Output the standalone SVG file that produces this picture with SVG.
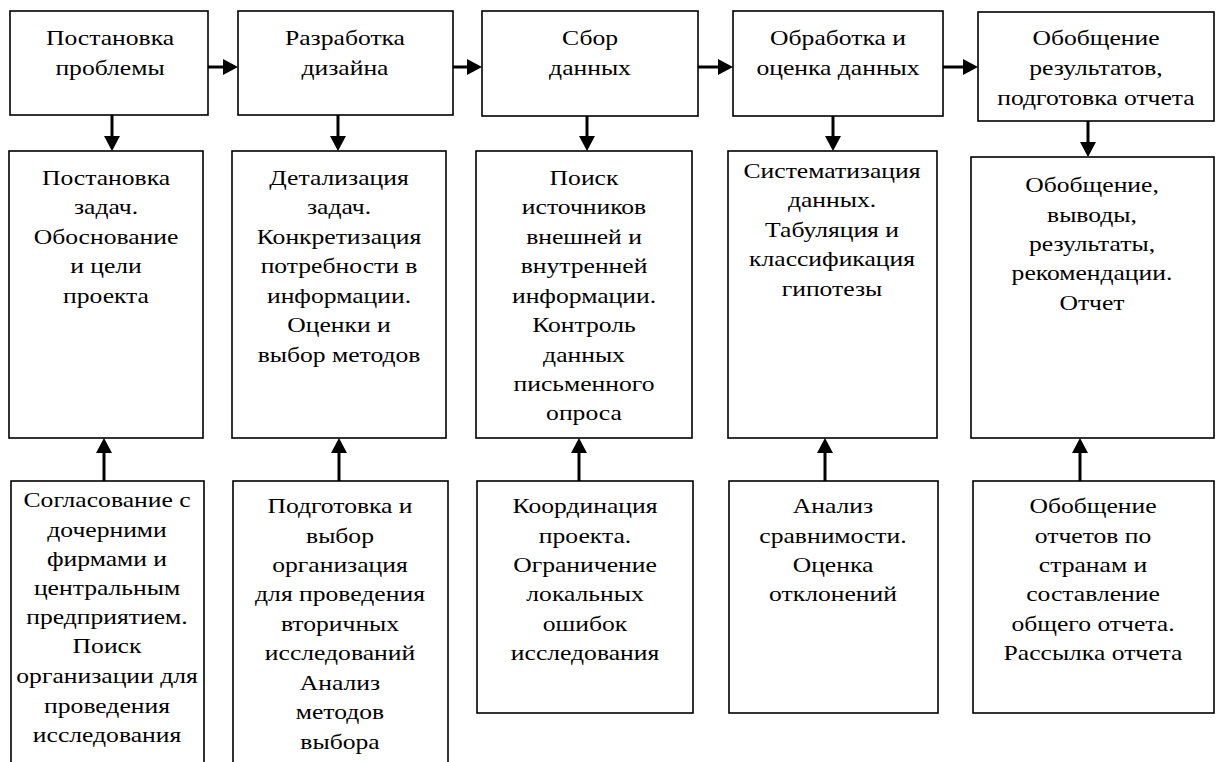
<svg xmlns="http://www.w3.org/2000/svg" width="1216" height="762" viewBox="0 0 1216 762">
<style>
.box{fill:#fff;stroke:#000;stroke-width:1.6}
text{font-family:'Liberation Serif','DejaVu Serif',serif;font-size:21px;fill:#000;text-anchor:middle}
.ar{stroke:#000;stroke-width:3;fill:none}
</style>
<defs>
<marker id="ah" viewBox="0 0 15 16" refX="0" refY="8" markerWidth="15" markerHeight="16" markerUnits="userSpaceOnUse" orient="auto">
<path d="M0,0 L15,8 L0,16 Z" fill="#000"/>
</marker>
</defs>
<rect width="1216" height="762" fill="#fff"/>

<g id="top1"><rect class="box" x="10" y="11" width="198" height="104"/>
<g transform="translate(110 0) scale(1.22 1)"><text x="0" y="45">Постановка</text><text x="0" y="75">проблемы</text></g></g>
<g id="top2"><rect class="box" x="238" y="11" width="215" height="104"/>
<g transform="translate(345 0) scale(1.22 1)"><text x="0" y="45">Разработка</text><text x="0" y="75">дизайна</text></g></g>
<g id="top3"><rect class="box" x="482" y="11" width="216" height="105"/>
<g transform="translate(590 0) scale(1.22 1)"><text x="0" y="45">Сбор</text><text x="0" y="75">данных</text></g></g>
<g id="top4"><rect class="box" x="733" y="11" width="210" height="105"/>
<g transform="translate(838 0) scale(1.22 1)"><text x="0" y="45">Обработка и</text><text x="0" y="75">оценка данных</text></g></g>
<g id="top5"><rect class="box" x="978" y="12" width="236" height="109"/>
<g transform="translate(1096 0) scale(1.22 1)"><text x="0" y="45">Обобщение</text><text x="0" y="75">результатов,</text><text x="0" y="105">подготовка отчета</text></g></g>

<g id="mid1"><rect class="box" x="9" y="151" width="194" height="287"/>
<g transform="translate(106 0) scale(1.22 1)"><text x="0" y="185">Постановка</text><text x="0" y="214">задач.</text><text x="0" y="244">Обоснование</text><text x="0" y="273">и цели</text><text x="0" y="303">проекта</text></g></g>
<g id="mid2"><rect class="box" x="232" y="151" width="214" height="287"/>
<g transform="translate(339 0) scale(1.22 1)"><text x="0" y="185">Детализация</text><text x="0" y="214">задач.</text><text x="0" y="244">Конкретизация</text><text x="0" y="273">потребности в</text><text x="0" y="303">информации.</text><text x="0" y="332">Оценки и</text><text x="0" y="362">выбор методов</text></g></g>
<g id="mid3"><rect class="box" x="476" y="151" width="216" height="287"/>
<g transform="translate(584 0) scale(1.22 1)"><text x="0" y="185">Поиск</text><text x="0" y="214">источников</text><text x="0" y="244">внешней и</text><text x="0" y="273">внутренней</text><text x="0" y="303">информации.</text><text x="0" y="332">Контроль</text><text x="0" y="362">данных</text><text x="0" y="391">письменного</text><text x="0" y="420">опроса</text></g></g>
<g id="mid4"><rect class="box" x="728" y="151" width="209" height="287"/>
<g transform="translate(832 0) scale(1.22 1)"><text x="0" y="178">Систематизация</text><text x="0" y="207">данных.</text><text x="0" y="237">Табуляция и</text><text x="0" y="266">классификация</text><text x="0" y="296">гипотезы</text></g></g>
<g id="mid5"><rect class="box" x="971" y="157" width="243" height="281"/>
<g transform="translate(1092 0) scale(1.22 1)"><text x="0" y="192">Обобщение,</text><text x="0" y="222">выводы,</text><text x="0" y="251">результаты,</text><text x="0" y="280">рекомендации.</text><text x="0" y="310">Отчет</text></g></g>

<g id="bot1"><rect class="box" x="11" y="481" width="193" height="290"/>
<g transform="translate(107 0) scale(1.22 1)"><text x="0" y="507">Согласование с</text><text x="0" y="537">дочерними</text><text x="0" y="566">фирмами и</text><text x="0" y="595">центральным</text><text x="0" y="624">предприятием.</text><text x="0" y="653">Поиск</text><text x="0" y="683">организации для</text><text x="0" y="713">проведения</text><text x="0" y="742">исследования</text></g></g>
<g id="bot2"><rect class="box" x="233" y="481" width="215" height="290"/>
<g transform="translate(340 0) scale(1.22 1)"><text x="0" y="513">Подготовка и</text><text x="0" y="543">выбор</text><text x="0" y="572">организация</text><text x="0" y="601">для проведения</text><text x="0" y="631">вторичных</text><text x="0" y="660">исследований</text><text x="0" y="690">Анализ</text><text x="0" y="719">методов</text><text x="0" y="749">выбора</text></g></g>
<g id="bot3"><rect class="box" x="477" y="481" width="216" height="232"/>
<g transform="translate(585 0) scale(1.22 1)"><text x="0" y="513">Координация</text><text x="0" y="543">проекта.</text><text x="0" y="572">Ограничение</text><text x="0" y="601">локальных</text><text x="0" y="631">ошибок</text><text x="0" y="660">исследования</text></g></g>
<g id="bot4"><rect class="box" x="729" y="481" width="209" height="232"/>
<g transform="translate(833 0) scale(1.22 1)"><text x="0" y="513">Анализ</text><text x="0" y="543">сравнимости.</text><text x="0" y="572">Оценка</text><text x="0" y="601">отклонений</text></g></g>
<g id="bot5"><rect class="box" x="973" y="481" width="241" height="232"/>
<g transform="translate(1093 0) scale(1.22 1)"><text x="0" y="513">Обобщение</text><text x="0" y="543">отчетов по</text><text x="0" y="572">странам и</text><text x="0" y="601">составление</text><text x="0" y="631">общего отчета.</text><text x="0" y="660">Рассылка отчета</text></g></g>

<g id="connectors">
<path class="ar" d="M208,67 H223" marker-end="url(#ah)"/>
<path class="ar" d="M453,67 H467" marker-end="url(#ah)"/>
<path class="ar" d="M698,67 H718" marker-end="url(#ah)"/>
<path class="ar" d="M943,67 H963" marker-end="url(#ah)"/>
<path class="ar" d="M112,115 V136" marker-end="url(#ah)"/>
<path class="ar" d="M338,115 V136" marker-end="url(#ah)"/>
<path class="ar" d="M587,116 V136" marker-end="url(#ah)"/>
<path class="ar" d="M833,116 V136" marker-end="url(#ah)"/>
<path class="ar" d="M1088,121 V142" marker-end="url(#ah)"/>
<path class="ar" d="M104,481 V453" marker-end="url(#ah)"/>
<path class="ar" d="M339,481 V453" marker-end="url(#ah)"/>
<path class="ar" d="M579,481 V453" marker-end="url(#ah)"/>
<path class="ar" d="M825,481 V453" marker-end="url(#ah)"/>
<path class="ar" d="M1080,481 V453" marker-end="url(#ah)"/>
</g>
</svg>
